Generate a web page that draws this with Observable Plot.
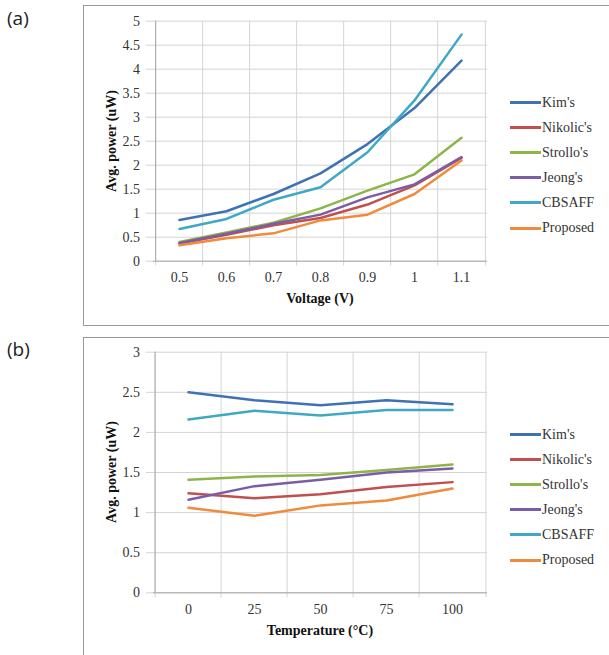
<!DOCTYPE html>
<html><head><meta charset="utf-8">
<script src="https://cdn.jsdelivr.net/npm/d3@7"></script>
<script src="https://cdn.jsdelivr.net/npm/@observablehq/plot@0.6"></script>
<style>
body{margin:0;background:#fff;}
#root{position:relative;width:609px;height:655px;overflow:hidden;font-family:"Liberation Serif","Times New Roman",serif;background:#fff;}
.frame{position:absolute;border:1px solid #999;box-sizing:border-box;background:#fff;}
.tag{position:absolute;font-family:"Open Sans",sans-serif;font-size:19px;color:#222;line-height:1;}
.xt{position:absolute;font-weight:bold;font-size:14px;color:#111;white-space:nowrap;transform:translate(-50%,-50%);}
.yt{position:absolute;font-weight:bold;font-size:14px;color:#111;white-space:nowrap;transform:translate(-50%,-50%) rotate(-90deg);}
.leg{position:absolute;font-size:14px;color:#333;white-space:nowrap;display:flex;align-items:center;transform:translateY(-50%);}
.leg span.sw{display:inline-block;width:31px;height:3px;margin-right:1px;}
svg.p{position:absolute;}
</style>
</head><body>
<div id="root"></div>
<script>
// ---- Data ----
const seriesNames = ["Kim's", "Nikolic's", "Strollo's", "Jeong's", "CBSAFF", "Proposed"];
const seriesColors = ["#3f72b5", "#c0504d", "#8db548", "#7b5ca6", "#3fa9c5", "#f08a3c"];

// (a) Avg. power vs Voltage
const voltage = ["0.5", "0.6", "0.7", "0.8", "0.9", "1", "1.1"];
const kimA      = [0.86, 1.04, 1.40, 1.83, 2.44, 3.19, 4.18];
const nikolicA  = [0.37, 0.55, 0.75, 0.90, 1.18, 1.58, 2.15];
const strolloA  = [0.40, 0.60, 0.80, 1.10, 1.47, 1.81, 2.57];
const jeongA    = [0.38, 0.57, 0.78, 0.97, 1.33, 1.60, 2.17];
const cbsaffA   = [0.67, 0.88, 1.28, 1.54, 2.27, 3.35, 4.72];
const proposedA = [0.33, 0.48, 0.58, 0.85, 0.97, 1.40, 2.10];
const yTicksA = [0, 0.5, 1, 1.5, 2, 2.5, 3, 3.5, 4, 4.5, 5];

// (b) Avg. power vs Temperature
const temperature = ["0", "25", "50", "75", "100"];
const kimB      = [2.50, 2.40, 2.34, 2.40, 2.35];
const nikolicB  = [1.24, 1.18, 1.23, 1.32, 1.38];
const strolloB  = [1.41, 1.45, 1.47, 1.53, 1.60];
const jeongB    = [1.16, 1.33, 1.41, 1.50, 1.55];
const cbsaffB   = [2.16, 2.27, 2.21, 2.28, 2.28];
const proposedB = [1.06, 0.96, 1.09, 1.15, 1.30];
const yTicksB = [0, 0.5, 1, 1.5, 2, 2.5, 3];

const valuesA = [kimA, nikolicA, strolloA, jeongA, cbsaffA, proposedA];
const valuesB = [kimB, nikolicB, strolloB, jeongB, cbsaffB, proposedB];

function tidy(cats, vals) {
  const out = [];
  vals.forEach((arr, i) => arr.forEach((v, j) => out.push({x: cats[j], y: v, s: seriesNames[i]})));
  return out;
}

const root = document.getElementById("root");
const GRID = "#d4d4d4", AXIS = "#a8a8a8";

function panel(o) {
  const W = 420, mL = 70, mR = 16;
  const step = (W - mL - mR) / o.cats.length;
  const svg = Plot.plot({
    width: W, height: o.height,
    marginLeft: mL, marginRight: mR, marginTop: o.mTop, marginBottom: o.mBottom,
    style: {fontFamily: '"Liberation Serif","Times New Roman",serif', fontSize: "14px", color: "#333", background: "transparent", overflow: "visible"},
    x: {type: "point", domain: o.cats, padding: 0.5},
    y: {domain: [0, o.yMax]},
    color: {domain: seriesNames, range: seriesColors},
    marks: [
      Plot.ruleY(o.yTicks, {y: d => d, stroke: GRID, insetLeft: -7}),
      Plot.ruleX(o.cats, {x: d => d, dx: -step / 2, stroke: GRID, insetBottom: -5}),
      Plot.ruleX([o.cats[o.cats.length - 1]], {x: d => d, dx: step / 2, stroke: GRID, insetBottom: -5}),
      Plot.ruleX([o.cats[0]], {x: d => d, dx: -step / 2, stroke: AXIS}),
      Plot.ruleY([0], {stroke: AXIS}),
      Plot.lineY(tidy(o.cats, o.vals), {x: "x", y: "y", z: "s", stroke: "s", strokeWidth: 2.5}),
      Plot.axisY({ticks: o.yTicks, tickSize: 0, tickPadding: 13.5, tickFormat: d => String(d), label: null}),
      Plot.axisX({tickSize: 0, tickPadding: 11, label: null})
    ]
  });
  svg.classList.add("p");
  svg.style.left = "83px";
  svg.style.top = o.top + "px";
  root.appendChild(svg);

  const plotL = 83 + mL, plotR = 83 + W - mR;
  const plotT = o.top + o.mTop, plotB = o.top + o.height - o.mBottom;
  const xt = document.createElement("div");
  xt.className = "xt"; xt.textContent = o.xLabel;
  xt.style.left = ((plotL + plotR) / 2) + "px"; xt.style.top = (plotB + 38.5) + "px";
  root.appendChild(xt);
  const yt = document.createElement("div");
  yt.className = "yt"; yt.textContent = "Avg. power (uW)";
  yt.style.left = "112px"; yt.style.top = ((plotT + plotB) / 2) + "px";
  root.appendChild(yt);

  seriesNames.forEach((n, i) => {
    const d = document.createElement("div");
    d.className = "leg";
    d.style.left = "510px";
    d.style.top = (o.legTop + i * 25.1) + "px";
    d.innerHTML = `<span class="sw" style="background:${seriesColors[i]}"></span>`;
    d.appendChild(document.createTextNode(n));
    root.appendChild(d);
  });
}

function frame(top, h) {
  const f = document.createElement("div");
  f.className = "frame";
  f.style.left = "83px"; f.style.top = top + "px"; f.style.width = "540px"; f.style.height = h + "px";
  root.appendChild(f);
}
function tag(t, top) {
  const d = document.createElement("div");
  d.className = "tag"; d.textContent = t;
  d.style.left = "7px"; d.style.top = top + "px";
  root.appendChild(d);
}

frame(5, 321);
frame(337, 340);
tag("(a)", 9);
tag("(b)", 340);

panel({cats: voltage, vals: valuesA, yMax: 5, yTicks: yTicksA, xLabel: "Voltage (V)",
       top: 5, height: 320, mTop: 15.7, mBottom: 64.3, legTop: 102.5});
panel({cats: temperature, vals: valuesB, yMax: 3, yTicks: yTicksB, xLabel: "Temperature (\u00B0C)",
       top: 337, height: 318, mTop: 14.7, mBottom: 62.7, legTop: 434.5});
</script>
</body></html>
